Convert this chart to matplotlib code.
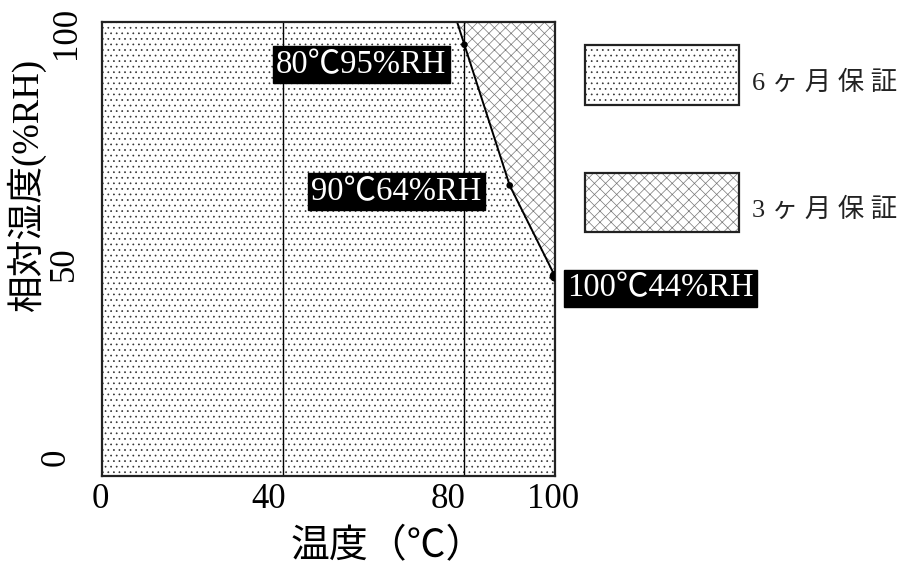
import matplotlib
matplotlib.use("Agg")
import matplotlib.pyplot as plt
from matplotlib.patches import Rectangle
from matplotlib.transforms import blended_transform_factory, ScaledTranslation

# ---- data ----
temps = [80, 90, 100]          # °C
rh = [95, 64, 44]              # %RH
point_labels = ["80℃95%RH", "90℃64%RH", "100℃44%RH"]
x_ticks = [0, 40, 80, 100]
y_ticks = [0, 50, 100]
ref_lines = [40, 80]
legend_labels = ["6 ヶ 月 保 証", "3 ヶ 月 保 証"]
x_label = "温度（℃）"
y_label = "相対湿度(%RH)"

FAM = ["Liberation Serif", "Noto Sans CJK JP", "DejaVu Sans"]
plt.rcParams["font.family"] = FAM
plt.rcParams["hatch.linewidth"] = 0.5

W, H, DPI = 907, 568, 100
fig = plt.figure(figsize=(W / DPI, H / DPI), dpi=DPI)
ax = fig.add_axes([102 / W, 1 - 476 / H, 453 / W, 454 / H])
ax.set_xlim(0, 100)
ax.set_ylim(0, 100)

# boundary extended to the top edge (line through the first two points)
x_top = temps[0] + (100 - rh[0]) * (temps[1] - temps[0]) / (rh[1] - rh[0])

dot_col = "#333333"
cross_col = "#777777"
# 6-month region (below boundary)
ax.fill_between([0, x_top] + temps, 0, [100, 100] + rh,
                facecolor="white", edgecolor=dot_col, hatch="...", linewidth=0)
# 3-month region (above boundary)
ax.fill_between([x_top] + temps, [100] + rh, 100,
                facecolor="white", edgecolor=cross_col, hatch="xxx", linewidth=0)

for xv in ref_lines:
    ax.axvline(xv, color="black", lw=1.0)

ax.plot([x_top] + temps, [100] + rh, color="black", lw=1.4)
ax.scatter(temps, rh, s=[14, 14, 45], color="black", zorder=5)

for sp in ax.spines.values():
    sp.set_linewidth(1.6)
    sp.set_color("#222222")

ax.set_xticks(x_ticks)
ax.set_yticks(y_ticks)
ax.set_xticklabels([])
ax.set_yticklabels([])
ax.tick_params(length=0)

# tick labels (placed like the original, with small hand offsets)
xt = blended_transform_factory(ax.transData, ax.transAxes)
x_off = [-2, -15, -16, -2]
for v, o in zip(x_ticks, x_off):
    ax.text(v, 0, str(v), transform=xt + ScaledTranslation(o / DPI, -24 / DPI, fig.dpi_scale_trans),
            ha="center", va="center", fontsize=25, family=FAM)
yt = blended_transform_factory(ax.transAxes, ax.transData)
y_off = [(-46, 19), (-38, -15), (-36, -11)]
for v, (ox, oy) in zip(y_ticks, y_off):
    ax.text(0, v, str(v), transform=yt + ScaledTranslation(ox / DPI, oy / DPI, fig.dpi_scale_trans),
            ha="center", va="center", rotation=90, fontsize=25, family=FAM)

# axis labels
ax.set_xlabel(x_label, fontsize=28, family=FAM)
ax.xaxis.set_label_coords((388 - 102) / 453, (476 - 548) / 454)
ax.xaxis.label.set_va("center")
ax.set_ylabel(y_label, fontsize=26.5, family=FAM)
ax.yaxis.set_label_coords((26 - 102) / 453, (476 - 184) / 454)
ax.yaxis.label.set_va("center")

# point annotations
offsets = [((-18, -20), "right"), ((-28, -6), "right"), ((12, -12), "left")]
for tx, ty, lab, ((dx, dy), ha) in zip(temps, rh, point_labels, offsets):
    ax.annotate(lab, (tx, ty), xytext=(dx, dy), textcoords="offset pixels",
                ha=ha, va="center", color="white", fontsize=23.5, family=FAM,
                bbox=dict(boxstyle="square,pad=0.1", facecolor="black", edgecolor="black"),
                zorder=6, annotation_clip=False)

# legend
boxes = [(585, 45, 154, 60, "...", dot_col), (585, 173, 154, 59, "xxx", cross_col)]
text_y = [83, 210]
for (bx, by, bw, bh, hch, hc), lab, ty in zip(boxes, legend_labels, text_y):
    r = Rectangle((bx / W, 1 - (by + bh) / H), bw / W, bh / H, transform=fig.transFigure,
                  facecolor="white", edgecolor=hc, hatch=hch, linewidth=0)
    fig.add_artist(r)
    b = Rectangle((bx / W, 1 - (by + bh) / H), bw / W, bh / H, transform=fig.transFigure,
                  fill=False, edgecolor="#222222", linewidth=1.6)
    fig.add_artist(b)
    fig.text(752 / W, 1 - ty / H, lab, ha="left", va="center", fontsize=19, family=FAM,
             color="#222222")

fig.savefig("out.png", dpi=DPI)
